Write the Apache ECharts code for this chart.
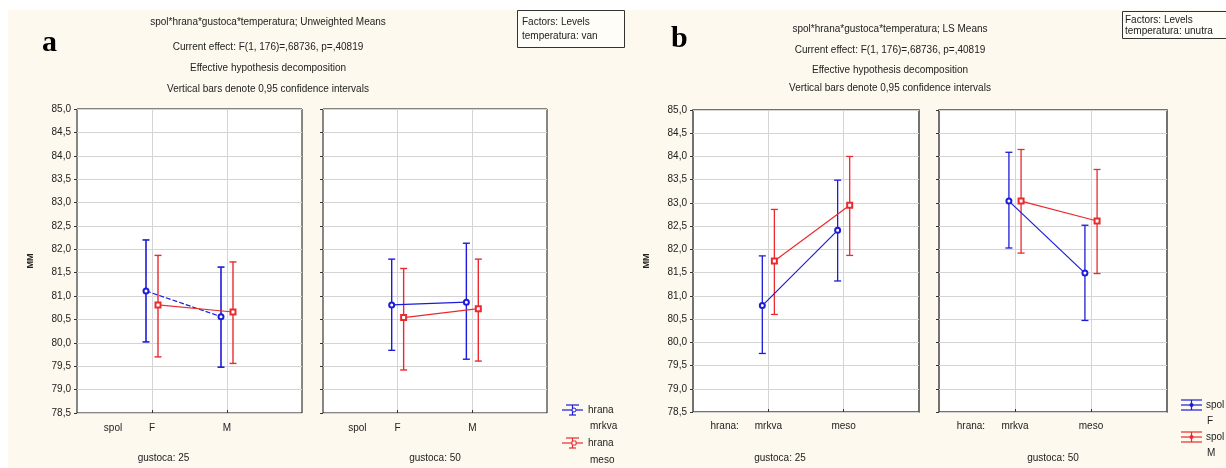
<!DOCTYPE html>
<html>
<head>
<meta charset="utf-8">
<script src="https://cdn.jsdelivr.net/npm/echarts@6/dist/echarts.min.js"></script>
<style>
  html, body { margin: 0; padding: 0; background: #fff; }
  #chart { width: 1226px; height: 468px; }
</style>
</head>
<body>
<div id="chart"></div>
<script>
// y scale (MM)
const yMin = 78.5, yMax = 85, yStep = 0.5;

// panel a (Unweighted Means), x factor: spol
const aLevels = ['F', 'M'];
const a25MrkvaMean = [81.11, 80.56], a25MrkvaLo = [80.02, 79.48], a25MrkvaHi = [82.20, 81.62];
const a25MesoMean  = [80.81, 80.66], a25MesoLo  = [79.70, 79.56], a25MesoHi  = [81.87, 81.73];
const a50MrkvaMean = [80.81, 80.87], a50MrkvaLo = [79.84, 79.65], a50MrkvaHi = [81.79, 82.13];
const a50MesoMean  = [80.54, 80.73], a50MesoLo  = [79.42, 79.61], a50MesoHi  = [81.59, 81.79];

// panel b (LS Means), x factor: hrana
const bLevels = ['mrkva', 'meso'];
const b25FMean = [80.79, 82.41], b25FLo = [79.76, 81.32], b25FHi = [81.86, 83.49];
const b25MMean = [81.75, 82.95], b25MLo = [80.60, 81.87], b25MHi = [82.86, 84.00];
const b50FMean = [83.04, 81.49], b50FLo = [82.03, 80.47], b50FHi = [84.09, 82.52];
const b50MMean = [83.04, 82.61], b50MLo = [81.92, 81.48], b50MHi = [84.15, 83.72];

const blue = '#1c1cd8';
const red = '#ea2a2e';
const jitter = 0.08; // small horizontal shift so the two groups don't overlap

const chart = echarts.init(document.getElementById('chart'));

function xPos(n, sign) {
  const out = [];
  for (let i = 0; i < n; i++) out.push(i + 1 + sign * jitter);
  return out;
}

function meanSeries(gi, means, sign, color, symbol, dashed) {
  const xs = xPos(means.length, sign);
  return {
    type: 'line',
    xAxisIndex: gi, yAxisIndex: gi,
    data: means.map((m, i) => [xs[i], m]),
    symbol: symbol, symbolSize: 5,
    itemStyle: { color: color, borderWidth: 1 },
    lineStyle: { color: color, width: 1.2, type: dashed ? [5, 2] : 'solid' },
    z: 4, silent: true, animation: false
  };
}

function errSeries(gi, lo, hi, sign, color, lw) {
  const xs = xPos(lo.length, sign);
  return {
    type: 'custom',
    xAxisIndex: gi, yAxisIndex: gi,
    data: lo.map((l, i) => [xs[i], l, hi[i]]),
    encode: { x: 0, y: [1, 2] },
    renderItem: function (params, api) {
      const t = api.coord([api.value(0), api.value(2)]);
      const b = api.coord([api.value(0), api.value(1)]);
      const w = 3.5;
      const st = { stroke: color, lineWidth: lw };
      return {
        type: 'group',
        children: [
          { type: 'line', shape: { x1: t[0], y1: t[1], x2: b[0], y2: b[1] }, style: st },
          { type: 'line', shape: { x1: t[0] - w, y1: t[1], x2: t[0] + w, y2: t[1] }, style: st },
          { type: 'line', shape: { x1: b[0] - w, y1: b[1], x2: b[0] + w, y2: b[1] }, style: st }
        ]
      };
    },
    z: 3, silent: true, animation: false
  };
}

const grids = [
  { left: 77, top: 109, width: 225, height: 307, borderColor: '#111', borderWidth: 1 },
  { left: 323, top: 109, width: 224, height: 307, borderColor: '#111', borderWidth: 1 },
  { left: 693, top: 110, width: 226, height: 302, borderColor: '#444', borderWidth: 1.5 },
  { left: 939, top: 110, width: 228, height: 302, borderColor: '#444', borderWidth: 1.5 }
].map(g => Object.assign({ show: true, backgroundColor: '#fff' }, g));

const lbl = { fontFamily: 'Liberation Sans', fontSize: 10, color: '#222' };

function xAxisFor(gi, factor, levels, factorPos, name, shiftName, labelGap, nameGap) {
  return {
    gridIndex: gi, type: 'value', min: 0, max: 3, interval: 1,
    axisLine: { show: false },
    axisTick: { show: true, inside: true, length: 3, customValues: [1, 2], lineStyle: { color: '#333' } },
    axisLabel: Object.assign({
      customValues: [factorPos, 1, 2],
      margin: labelGap,
      formatter: v => (v === 1 ? levels[0] : v === 2 ? levels[1] : factor)
    }, lbl),
    splitLine: { show: true, lineStyle: { color: '#d4d4d4', width: 1 } },
    name: name, nameLocation: 'middle', nameGap: nameGap,
    nameTextStyle: Object.assign({ padding: [0, shiftName, 0, 0] }, lbl)
  };
}

function yAxisFor(gi, showLabels) {
  return {
    gridIndex: gi, type: 'value', min: yMin, max: yMax, interval: yStep,
    axisLine: { show: false },
    axisTick: { show: true, length: 3, lineStyle: { color: '#333' } },
    axisLabel: Object.assign({ show: showLabels, margin: 6, formatter: v => v.toFixed(1).replace('.', ',') }, lbl),
    splitLine: { show: true, lineStyle: { color: '#d4d4d4', width: 1 } },
    name: showLabels ? 'MM' : '', nameLocation: 'middle', nameGap: 42,
    nameTextStyle: { fontFamily: 'Liberation Sans', fontSize: 9, fontWeight: 'bold', color: '#222' }
  };
}

function txt(x, y, s, opts) {
  return {
    type: 'text', x: x, y: y, silent: true,
    style: Object.assign({ text: s, fill: '#222', font: '10px "Liberation Sans"', textAlign: 'left', textVerticalAlign: 'middle' }, opts || {})
  };
}

function seg(x1, y1, x2, y2, color, lw) {
  return { type: 'line', silent: true, shape: { x1, y1, x2, y2 }, style: { stroke: color, lineWidth: lw || 1.2 } };
}

// legend icon for panel a: line with error bar and open marker
function legendA(x, y, color, marker) {
  const items = [
    seg(x, y, x + 21, y, color),
    seg(x + 10.5, y - 5, x + 10.5, y + 5, color),
    seg(x + 4, y - 5, x + 17, y - 5, color),
    seg(x + 7, y + 5, x + 14, y + 5, color)
  ];
  items.push(marker === 'circle'
    ? { type: 'circle', silent: true, shape: { cx: x + 12, cy: y, r: 2 }, style: { fill: '#fff', stroke: color, lineWidth: 1 } }
    : { type: 'rect', silent: true, shape: { x: x + 10, y: y - 2, width: 4, height: 4 }, style: { fill: '#fff', stroke: color, lineWidth: 1 } });
  return items;
}

// legend icon for panel b: three rules with a dot
function legendB(x, y, color) {
  return [
    seg(x, y - 5, x + 21, y - 5, color),
    seg(x, y, x + 21, y, color),
    seg(x, y + 5, x + 21, y + 5, color),
    seg(x + 10.5, y - 5, x + 10.5, y + 5, color),
    { type: 'circle', silent: true, shape: { cx: x + 10.5, cy: y, r: 2 }, style: { fill: color } }
  ];
}

const graphics = [
  { type: 'rect', silent: true, shape: { x: 0, y: 0, width: 1226, height: 10 }, style: { fill: '#fff' } },
  { type: 'rect', silent: true, shape: { x: 0, y: 0, width: 8, height: 468 }, style: { fill: '#fff' } },
  // panel letters
  txt(42, 58, 'a', { font: 'bold 30px "Liberation Serif"', fill: '#000', textVerticalAlign: 'bottom' }),
  txt(671, 54, 'b', { font: 'bold 30px "Liberation Serif"', fill: '#000', textVerticalAlign: 'bottom' }),
  // panel a titles
  txt(268, 22, 'spol*hrana*gustoca*temperatura; Unweighted Means', { textAlign: 'center' }),
  txt(268, 47, 'Current effect: F(1, 176)=,68736, p=,40819', { textAlign: 'center' }),
  txt(268, 68, 'Effective hypothesis decomposition', { textAlign: 'center' }),
  txt(268, 89, 'Vertical bars denote 0,95 confidence intervals', { textAlign: 'center' }),
  // panel b titles
  txt(890, 29, 'spol*hrana*gustoca*temperatura; LS Means', { textAlign: 'center' }),
  txt(890, 50, 'Current effect: F(1, 176)=,68736, p=,40819', { textAlign: 'center' }),
  txt(890, 70, 'Effective hypothesis decomposition', { textAlign: 'center' }),
  txt(890, 88, 'Vertical bars denote 0,95 confidence intervals', { textAlign: 'center' }),
  // factor boxes
  { type: 'rect', silent: true, shape: { x: 517.5, y: 10.5, width: 107, height: 37 }, style: { fill: '#fffdf8', stroke: '#333', lineWidth: 1 } },
  txt(522, 22, 'Factors: Levels'),
  txt(522, 36, 'temperatura: van'),
  { type: 'rect', silent: true, shape: { x: 1122.5, y: 11.5, width: 120, height: 27 }, style: { fill: '#fffdf8', stroke: '#333', lineWidth: 1 } },
  txt(1125, 20, 'Factors: Levels'),
  txt(1125, 31, 'temperatura: unutra'),
  // legend a
  ...legendA(562, 410, blue, 'circle'),
  txt(588, 410, 'hrana'),
  txt(590, 426, 'mrkva'),
  ...legendA(562, 443, red, 'rect'),
  txt(588, 443, 'hrana'),
  txt(590, 460, 'meso'),
  // legend b
  ...legendB(1181, 405, blue),
  txt(1206, 405, 'spol'),
  txt(1207, 421, 'F'),
  ...legendB(1181, 437, red),
  txt(1206, 437, 'spol'),
  txt(1207, 453, 'M')
];

const option = {
  backgroundColor: '#fdf9ef',
  animation: false,
  grid: grids,
  xAxis: [
    xAxisFor(0, 'spol', aLevels, 0.48, 'gustoca: 25', 52, 10, 40),
    xAxisFor(1, 'spol', aLevels, 0.46, 'gustoca: 50', 0, 10, 40),
    xAxisFor(2, 'hrana:', bLevels, 0.42, 'gustoca: 25', 52, 9, 41),
    xAxisFor(3, 'hrana:', bLevels, 0.42, 'gustoca: 50', 0, 9, 41)
  ],
  yAxis: [yAxisFor(0, true), yAxisFor(1, false), yAxisFor(2, true), yAxisFor(3, false)],
  series: [
    errSeries(0, a25MrkvaLo, a25MrkvaHi, -1, blue, 1.6),
    meanSeries(0, a25MrkvaMean, -1, blue, 'emptyCircle', true),
    errSeries(0, a25MesoLo, a25MesoHi, 1, red, 1.4),
    meanSeries(0, a25MesoMean, 1, red, 'emptyRect', false),

    errSeries(1, a50MrkvaLo, a50MrkvaHi, -1, blue, 1.4),
    meanSeries(1, a50MrkvaMean, -1, blue, 'emptyCircle', false),
    errSeries(1, a50MesoLo, a50MesoHi, 1, red, 1.4),
    meanSeries(1, a50MesoMean, 1, red, 'emptyRect', false),

    errSeries(2, b25FLo, b25FHi, -1, blue, 1.3),
    meanSeries(2, b25FMean, -1, blue, 'emptyCircle', false),
    errSeries(2, b25MLo, b25MHi, 1, red, 1.3),
    meanSeries(2, b25MMean, 1, red, 'emptyRect', false),

    errSeries(3, b50FLo, b50FHi, -1, blue, 1.3),
    meanSeries(3, b50FMean, -1, blue, 'emptyCircle', false),
    errSeries(3, b50MLo, b50MHi, 1, red, 1.3),
    meanSeries(3, b50MMean, 1, red, 'emptyRect', false)
  ],
  graphic: graphics
};

chart.setOption(option);
</script>
</body>
</html>
